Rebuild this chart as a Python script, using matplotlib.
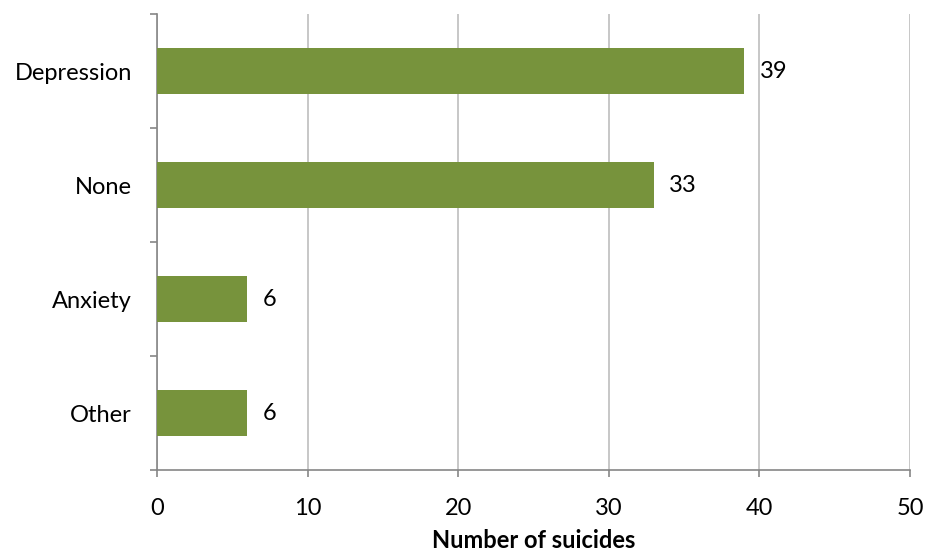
import matplotlib
matplotlib.use("Agg")
import matplotlib.pyplot as plt
import numpy as np

plt.rcParams['font.family'] = ['Lato', 'DejaVu Sans']

categories = ["Depression", "None", "Anxiety", "Other"]
values = [39, 33, 6, 6]
x_ticks = [0, 10, 20, 30, 40, 50]
x_label = "Number of suicides"

bar_color = "#77933C"
grid_color = "#BEBEBE"
axis_color = "#868686"
fs = 17

fig = plt.figure(figsize=(9.28, 5.51), dpi=100)
ax = fig.add_axes([157 / 928, 1 - 470 / 551, (910 - 157) / 928, (470 - 14) / 551])

y = np.arange(len(categories))
ax.barh(y, values, height=0.4, color=bar_color, zorder=3)
ax.set_ylim(len(categories) - 0.5, -0.5)
ax.set_xlim(0, 50)

for yi, v in zip(y, values):
    ax.annotate(str(v), (v, yi), xytext=(11, 0), textcoords="offset points",
                va="center", ha="left", fontsize=fs, color="black")

ax.set_xticks(x_ticks)
ax.set_xticklabels([str(t) for t in x_ticks], fontsize=fs)
ax.set_yticks(y)
ax.set_yticklabels(categories, fontsize=fs)
ax.set_yticks(np.arange(-0.5, len(categories), 1), minor=True)

ax.tick_params(axis="y", which="major", length=0, pad=18)
ax.tick_params(axis="y", which="minor", length=5, color=axis_color, width=1.2)
ax.tick_params(axis="x", which="major", length=5, color=axis_color, width=1.2, pad=15)

ax.grid(axis="x", color=grid_color, linewidth=1.2, zorder=0)
for s in ["top", "right"]:
    ax.spines[s].set_visible(False)
for s in ["left", "bottom"]:
    ax.spines[s].set_color(axis_color)
    ax.spines[s].set_linewidth(1.2)

ax.set_xlabel(x_label, fontsize=fs, fontweight="bold", labelpad=7)

fig.savefig("out.png", dpi=100)
